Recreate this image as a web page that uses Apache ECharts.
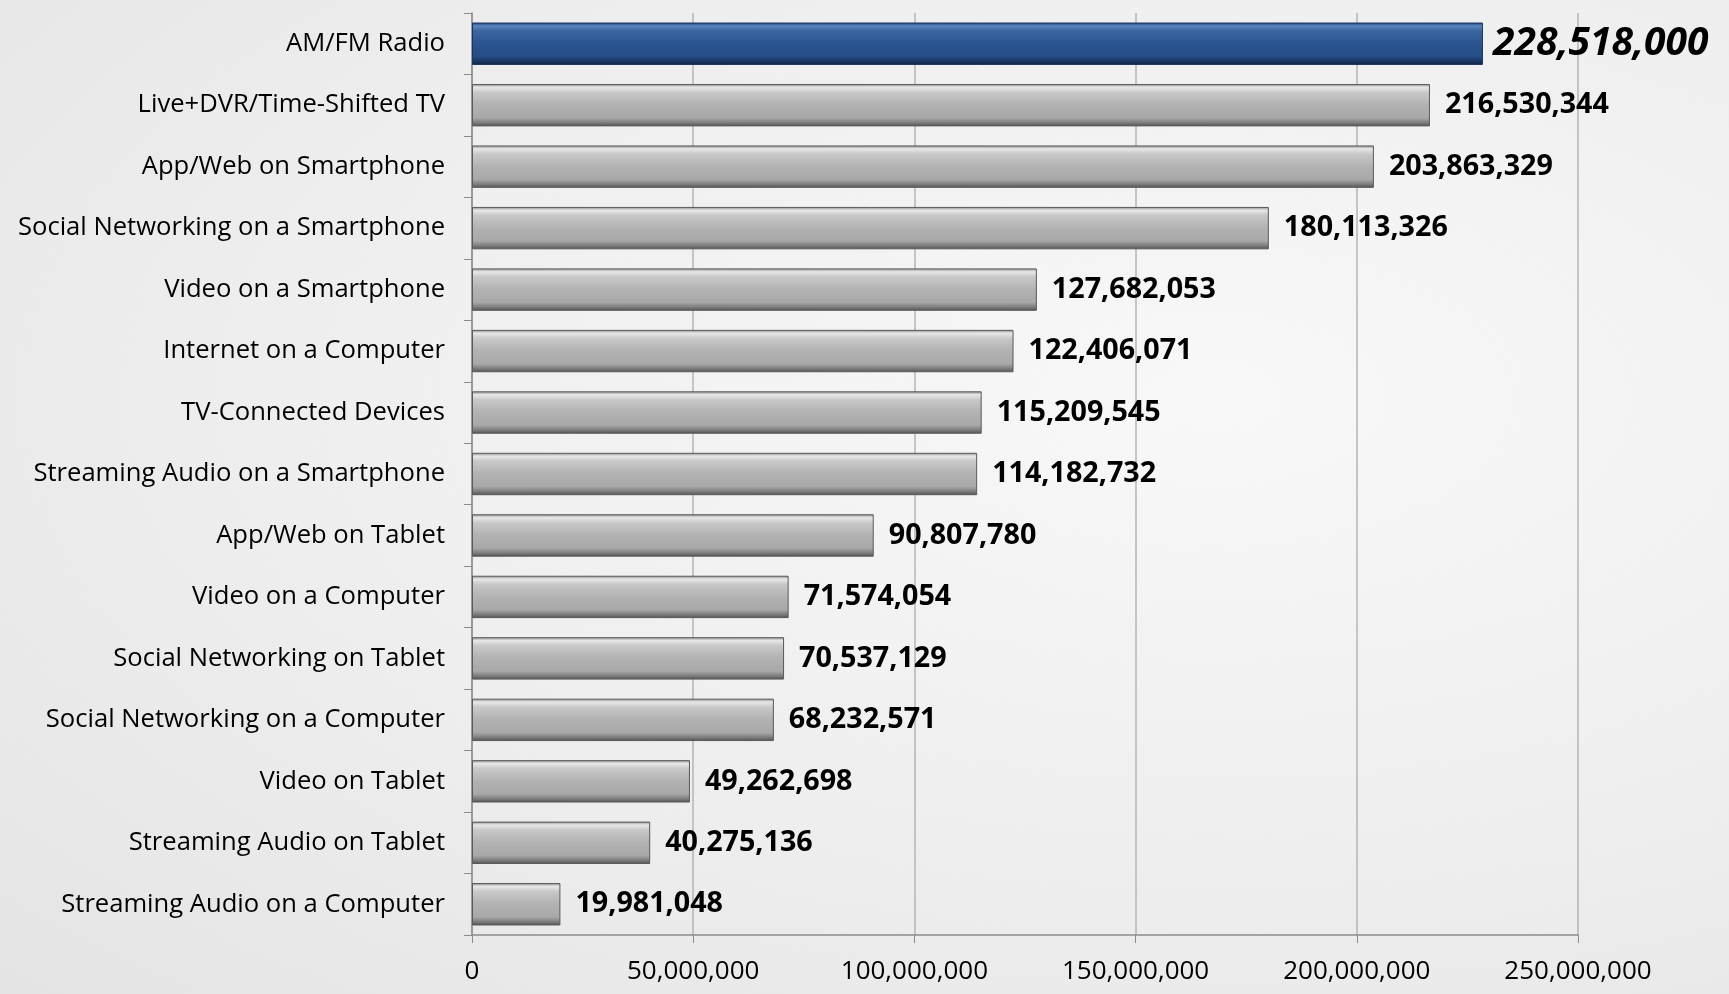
<!DOCTYPE html>
<html><head><meta charset="utf-8">
<script src="https://cdn.jsdelivr.net/npm/echarts@6/dist/echarts.min.js"></script>
<style>html,body{margin:0;padding:0;}#c{width:1729px;height:994px;background:radial-gradient(ellipse at 70% 40%,#f8f8f8 0%,#eeeeee 55%,#e4e4e4 100%);}</style>
</head><body><div id="c"></div>
<script>
const categories = ["AM/FM Radio","Live+DVR/Time-Shifted TV","App/Web on Smartphone","Social Networking on a Smartphone","Video on a Smartphone","Internet on a Computer","TV-Connected Devices","Streaming Audio on a Smartphone","App/Web on Tablet","Video on a Computer","Social Networking on Tablet","Social Networking on a Computer","Video on Tablet","Streaming Audio on Tablet","Streaming Audio on a Computer"];
const values = [228518000,216530344,203863329,180113326,127682053,122406071,115209545,114182732,90807780,71574054,70537129,68232571,49262698,40275136,19981048];
const xTicks = [0,50000000,100000000,150000000,200000000,250000000];

const fmt = v => v.toLocaleString('en-US');
const grayGrad = new echarts.graphic.LinearGradient(0,0,0,1,[
  {offset:0,color:'#8a8a8a'},{offset:0.08,color:'#e8e8e8'},{offset:0.2,color:'#c8c8c8'},
  {offset:0.5,color:'#b2b2b2'},{offset:0.8,color:'#a8a8a8'},{offset:0.92,color:'#7a7a7a'},{offset:1,color:'#505050'}]);
const blueGrad = new echarts.graphic.LinearGradient(0,0,0,1,[
  {offset:0,color:'#1f3f6e'},{offset:0.08,color:'#5a86c0'},{offset:0.2,color:'#3a66a0'},
  {offset:0.5,color:'#2a5490'},{offset:0.8,color:'#264c84'},{offset:0.92,color:'#183660'},{offset:1,color:'#0f2444'}]);

const data = values.map((v,i)=>({
  value:v,
  itemStyle:{color: i===0?blueGrad:grayGrad, borderColor: i===0?'#1a3560':'#5a5a5a', borderWidth:1},
  label: i===0 ? {fontSize:39,fontStyle:'italic',fontWeight:'bold',color:'#000',distance:10} : undefined
}));

const chart = echarts.init(document.getElementById('c'));
chart.setOption({
  animation:false,
  grid:{left:472,right:151,top:13,bottom:59,containLabel:false},
  xAxis:{type:'value',min:0,max:250000000,interval:50000000,
    axisLine:{show:true,lineStyle:{color:'#8c8c8c',width:1.5}},
    axisTick:{show:true,length:8,lineStyle:{color:'#8c8c8c'}},
    splitLine:{show:true,lineStyle:{color:'#b4b4b4',width:1.5}},
    axisLabel:{formatter:v=>xTicks.includes(v)?fmt(v):'',fontFamily:'Open Sans',fontSize:26,color:'#000',margin:24}},
  yAxis:{type:'category',data:categories,inverse:true,
    axisLine:{show:true,lineStyle:{color:'#8c8c8c',width:1.5}},
    axisTick:{show:true,length:8,lineStyle:{color:'#8c8c8c'}},
    axisLabel:{fontFamily:'Open Sans',fontSize:25.6,color:'#000',margin:27}},
  series:[{type:'bar',data:data,barCategoryGap:'31%',
    label:{show:true,position:'right',distance:15,formatter:p=>fmt(p.value),
      fontFamily:'Open Sans',fontWeight:'bold',fontSize:28.7,color:'#000'}}]
});
</script></body></html>
